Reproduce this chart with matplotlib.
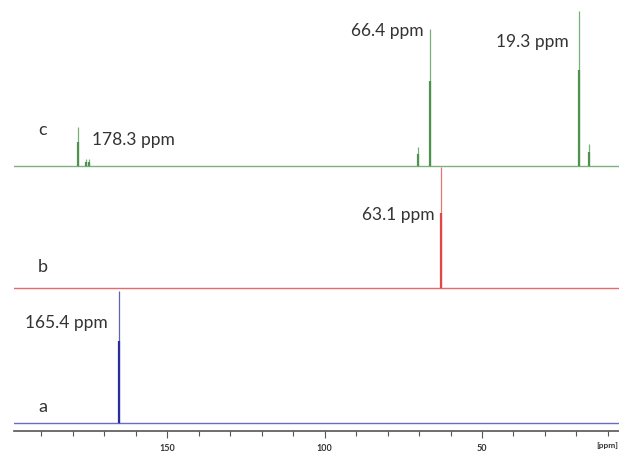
import matplotlib.pyplot as plt
from matplotlib.ticker import MultipleLocator

plt.rcParams["font.family"] = ["Lato", "DejaVu Sans"]

# peak positions (ppm) and heights (arbitrary units) for each spectrum
c_ppm = [178.3, 175.7, 174.8, 70.2, 66.4, 19.3, 16.0]
c_height = [39, 7, 7, 19, 137, 155, 22]
b_ppm = [63.1]
b_height = [121]
a_ppm = [165.4]
a_height = [132]

peak_labels = ["178.3 ppm", "66.4 ppm", "19.3 ppm", "63.1 ppm", "165.4 ppm"]
trace_names = ["a", "b", "c"]

fig = plt.figure(figsize=(6.19, 4.52), dpi=100)
ax = fig.add_axes([14 / 619, 20 / 452, 605 / 619, 432 / 452])
ax.set_xlim(198.6, 6.5)
ax.set_ylim(0, 432)

traces = [
    (a_ppm, a_height, 8, "#2b2b9c", "#6a6ac8"),
    (b_ppm, b_height, 143, "#e04848", "#e86a6a"),
    (c_ppm, c_height, 265, "#4f924f", "#7fb07f"),
]
for ppm, height, base, col, base_col in traces:
    ax.axhline(base, color=base_col, lw=1.0, zorder=1)
    tops = [base + h for h in height]
    ax.vlines(ppm, base, tops, color=col, lw=0.9, alpha=0.75, zorder=2)
    lower = [base + 0.62 * h for h in height]
    ax.vlines(ppm, base, lower, color=col, lw=1.6, zorder=2)

# trace letters
for name, y in zip(trace_names, [25, 165, 302]):
    ax.text(191, y, name, fontsize=13, color="#333333", ha="left", va="center")

txt = dict(fontsize=12.5, color="#333333", va="center")
ax.text(173.8, 292, peak_labels[0], ha="left", **txt)
ax.text(68.6, 401, peak_labels[1], ha="right", **txt)
ax.text(22.4, 390, peak_labels[2], ha="right", **txt)
ax.text(65.2, 217, peak_labels[3], ha="right", **txt)
ax.text(195.0, 109, peak_labels[4], ha="left", **txt)

for s in ["top", "left", "right"]:
    ax.spines[s].set_visible(False)
ax.spines["bottom"].set_color("#555555")
ax.spines["bottom"].set_linewidth(1.2)
ax.set_yticks([])
ax.xaxis.set_major_locator(MultipleLocator(50))
ax.xaxis.set_minor_locator(MultipleLocator(10))
ax.tick_params(axis="x", which="major", length=5, width=0.8, color="#555555",
               labelsize=6.5, labelcolor="#333333", pad=4)
ax.tick_params(axis="x", which="minor", length=3.5, width=0.8, color="#555555")
for lab in ax.get_xticklabels():
    lab.set_fontweight("bold")

fig.text(596 / 619, 6 / 452, "[ppm]", fontsize=6, fontweight="bold",
         color="#333333", ha="left", va="center")

fig.savefig("out.png", dpi=100)
